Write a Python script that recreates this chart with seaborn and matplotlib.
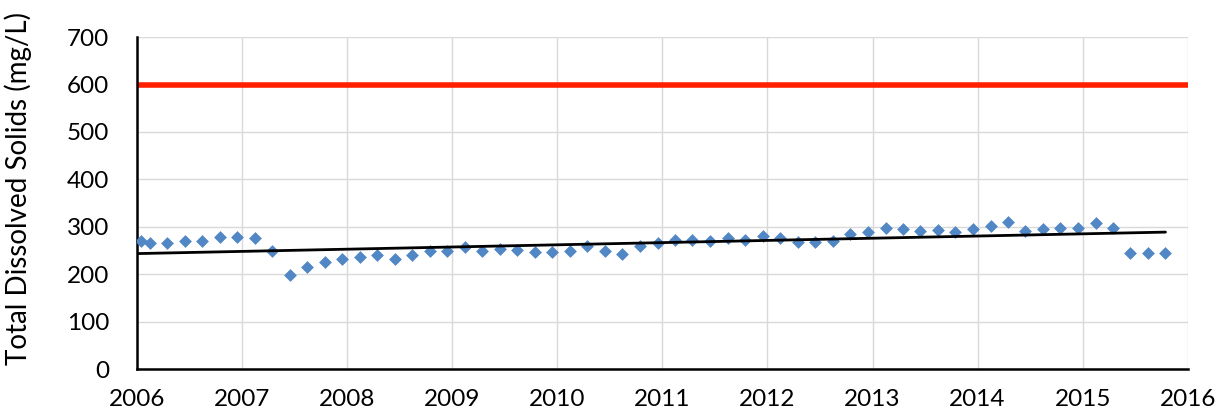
import numpy as np
import pandas as pd
import matplotlib
matplotlib.use("Agg")
import matplotlib.pyplot as plt
import seaborn as sns
from matplotlib.ticker import MultipleLocator

# ---- data ----
dates = (["2006-01-15", "2006-02-15"] +
         [f"{y}-{m:02d}-15" for y in range(2006, 2015) for m in (2, 4, 6, 8, 10, 12) if not (y == 2006 and m == 2)] +
         ["2015-02-15", "2015-04-15", "2015-06-15", "2015-08-15", "2015-10-15"])
tds = [270, 265, 265, 270, 270, 279, 279,
       276, 249, 198, 216, 226, 232,
       237, 240, 232, 240, 249, 249,
       257, 249, 254, 251, 247, 247,
       249, 259, 249, 242, 259, 265,
       272, 272, 270, 276, 272, 280,
       276, 267, 268, 271, 285, 289,
       297, 295, 292, 293, 289, 295,
       302, 311, 292, 295, 297, 297,
       307, 297, 245, 245, 245]
standard = 600
year_ticks = list(range(2006, 2017))
y_ticks = [0, 100, 200, 300, 400, 500, 600, 700]

dt = pd.to_datetime(dates)
xdec = dt.year + (dt.dayofyear - 0.5) / np.where(dt.is_leap_year, 366, 365)
df = pd.DataFrame({"x": xdec, "tds": tds})

sns.set_style("white")
plt.rcParams["font.family"] = ["Lato", "DejaVu Sans"]
plt.rcParams["text.color"] = "black"
plt.rcParams["axes.labelcolor"] = "black"
plt.rcParams["xtick.color"] = "black"
plt.rcParams["ytick.color"] = "black"
plt.rcParams["xtick.labelcolor"] = "black"
plt.rcParams["ytick.labelcolor"] = "black"

fig = plt.figure(figsize=(12.22, 4.17), dpi=100)
ax = fig.add_axes([0.112, 0.115, 0.860, 0.796])

# grid
for yv in y_ticks:
    ax.axhline(yv, color="#d9d9d9", lw=1, zorder=0)
for xv in year_ticks:
    ax.axvline(xv, color="#d9d9d9", lw=1, zorder=0)

# standard line
ax.plot([year_ticks[0], year_ticks[-1]], [standard, standard], color="#ff2000", lw=4, zorder=2)

# data
sns.scatterplot(data=df, x="x", y="tds", marker="D", s=36, color="#5287c6",
                edgecolor="#5287c6", linewidth=0.5, ax=ax, zorder=3, legend=False)

# linear trend
coef = np.polyfit(df["x"], df["tds"], 1)
xt = np.array([year_ticks[0], df["x"].max()])
ax.plot(xt, np.polyval(coef, xt), color="black", lw=2, zorder=4)

ax.set_xlim(year_ticks[0], year_ticks[-1])
ax.set_ylim(0, 700)
ax.set_xticks(year_ticks)
ax.set_xticklabels([str(y) for y in year_ticks])
ax.xaxis.set_minor_locator(MultipleLocator(0.5))
ax.set_yticks(y_ticks)
ax.set_yticklabels([str(v) for v in y_ticks])
ax.tick_params(axis="x", which="both", direction="inout", length=7, width=1.2, labelsize=17.5, pad=11, color="black")
ax.tick_params(axis="y", length=0, labelsize=17.5, pad=20)
for lab in ax.get_xticklabels() + ax.get_yticklabels():
    lab.set_color("black")
ax.set_xlabel("")
ax.set_ylabel("Total Dissolved Solids (mg/L)", fontsize=20, color="black")
ax.yaxis.set_label_coords(-0.100, 0.545)

for s in ["top", "right"]:
    ax.spines[s].set_visible(False)
for s in ["left", "bottom"]:
    ax.spines[s].set_color("black")
    ax.spines[s].set_linewidth(1.8)

fig.savefig("out.png", dpi=100)
